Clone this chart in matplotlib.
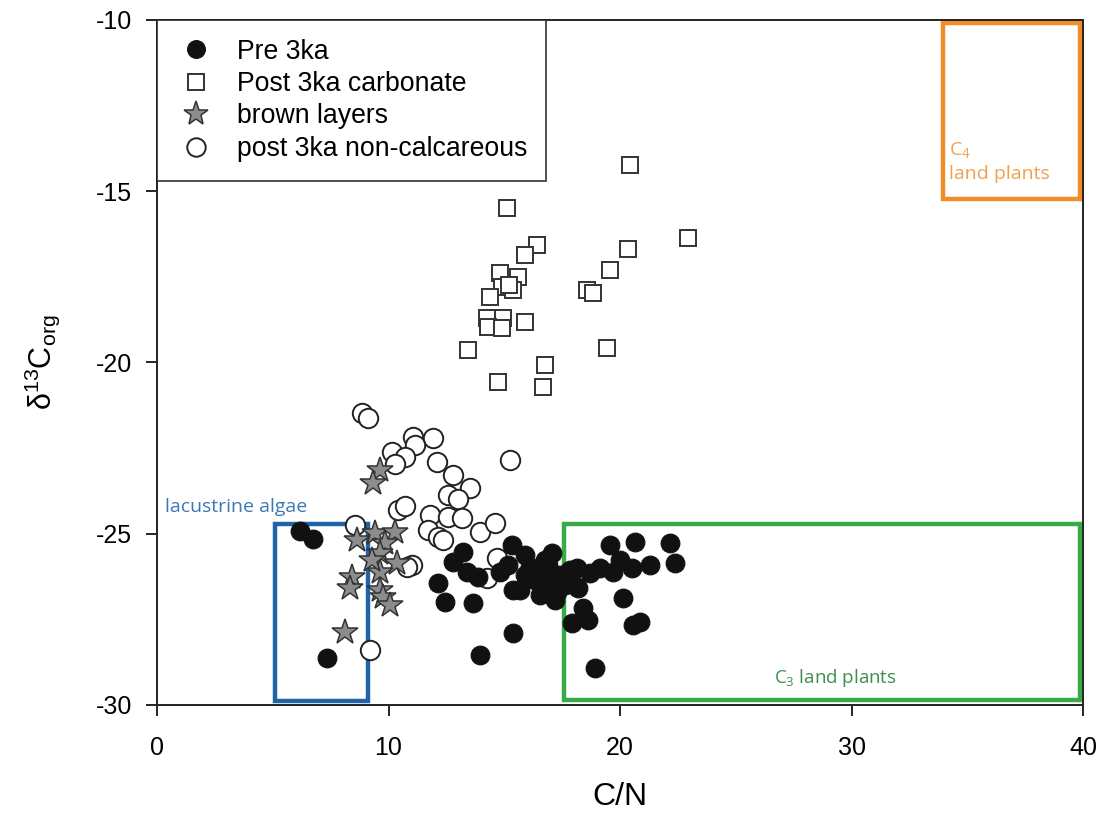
import matplotlib
matplotlib.use("Agg")
import matplotlib.pyplot as plt
from matplotlib.patches import Rectangle

plt.rcParams['font.family'] = ['Liberation Sans', 'DejaVu Sans']
plt.rcParams['mathtext.fontset'] = 'custom'
plt.rcParams['mathtext.rm'] = 'Liberation Sans'
plt.rcParams['mathtext.it'] = 'Liberation Sans'
plt.rcParams['mathtext.default'] = 'regular'
plt.rcParams['axes.unicode_minus'] = False

# ---- data ----
pre_cn = [6.18, 6.74, 7.34, 12.14, 12.44, 13.65, 12.79, 13.22, 13.39, 13.87,
          15.33, 15.90, 15.38, 15.68, 14.82, 15.16, 16.11, 16.67, 17.06, 16.67,
          17.28, 16.98, 16.33, 16.89, 17.41, 16.54, 17.84, 18.14, 18.40, 18.62,
          17.93, 17.62, 15.38, 13.95, 18.92, 19.57, 20.65, 22.16, 22.38, 21.30,
          20.52, 19.70, 20.00, 18.70, 18.14, 18.19, 20.13, 20.56, 20.86, 19.14,
          17.19, 16.76, 15.90]
pre_d13c = [-24.92, -25.15, -28.63, -26.44, -26.99, -27.02, -25.82, -25.53, -26.12, -26.26,
            -25.33, -25.62, -26.64, -26.64, -26.12, -25.91, -25.97, -26.20, -25.56, -26.55,
            -26.70, -26.35, -26.35, -25.91, -26.20, -26.79, -26.06, -26.55, -27.17, -27.52,
            -27.61, -26.50, -27.90, -28.54, -28.92, -25.33, -25.24, -25.27, -25.85, -25.91,
            -26.00, -26.12, -25.77, -26.15, -26.00, -26.58, -26.88, -27.66, -27.58, -26.00,
            -26.93, -25.77, -26.20]

carb_cn = [20.43, 15.12, 16.40, 15.90, 22.94, 20.35, 19.57, 14.80, 15.60, 18.57,
           18.84, 14.90, 15.38, 14.38, 14.25, 14.95, 14.30, 14.90, 15.90, 13.43,
           19.44, 16.76, 14.73, 16.67, 15.20]
carb_d13c = [-14.23, -15.49, -16.57, -16.86, -16.36, -16.70, -17.30, -17.39, -17.50, -17.88,
             -17.97, -17.80, -17.88, -18.09, -18.70, -18.70, -18.96, -18.99, -18.82, -19.64,
             -19.58, -20.07, -20.57, -20.72, -17.75]

brown_cn = [9.63, 9.33, 8.64, 9.42, 10.28, 9.85, 9.63, 10.37, 9.63, 8.42,
            8.34, 9.63, 9.76, 10.06, 8.12, 9.29]
brown_d13c = [-23.14, -23.52, -25.18, -24.98, -24.95, -25.27, -25.56, -25.85, -26.12, -26.26,
              -26.58, -26.64, -26.85, -27.08, -27.87, -25.77]

nonc_cn = [8.86, 9.11, 11.06, 11.92, 11.15, 10.15, 10.70, 10.28, 12.10, 15.25,
           12.80, 13.50, 12.57, 13.00, 10.40, 10.70, 11.80, 12.57, 13.17, 13.95,
           14.60, 11.70, 12.14, 12.35, 8.55, 11.00, 10.80, 14.70, 14.25, 9.20]
nonc_d13c = [-21.47, -21.62, -22.17, -22.20, -22.40, -22.60, -22.75, -22.95, -22.90, -22.85,
             -23.30, -23.67, -23.87, -24.00, -24.30, -24.20, -24.45, -24.50, -24.55, -24.95,
             -24.69, -24.90, -25.10, -25.18, -24.74, -25.90, -25.96, -25.70, -26.30, -28.40]

labels = ['Pre 3ka', 'Post 3ka carbonate', 'brown layers', 'post 3ka non-calcareous']
x_ticks = [0, 10, 20, 30, 40]
y_ticks = [-10, -15, -20, -25, -30]

# ---- figure ----
fig = plt.figure(figsize=(11.09, 8.15), dpi=100)
ax = fig.add_axes([0.1416, 0.135, 0.835, 0.8405])

ax.plot(nonc_cn, nonc_d13c, 'o', ms=14, mfc='white', mec='#222222', mew=1.4,
        ls='none', label=labels[3], zorder=3)
ax.plot(carb_cn, carb_d13c, 's', ms=11.5, mfc='white', mec='#333333', mew=1.4,
        ls='none', label=labels[1], zorder=3)
ax.plot(pre_cn, pre_d13c, 'o', ms=13.5, mfc='#111111', mec='#111111', mew=0.8,
        ls='none', label=labels[0], zorder=4)
ax.plot(brown_cn, brown_d13c, '*', ms=19, mfc='#8c8c8c', mec='#333333', mew=1.1,
        ls='none', label=labels[2], zorder=5)

# reference boxes
ax.add_patch(Rectangle((5.1, -29.88), 4.0, 5.15, fill=False, ec='#1f64a8', lw=3.2, zorder=2))
ax.add_patch(Rectangle((17.6, -29.85), 22.25, 5.13, fill=False, ec='#3aaa48', lw=3.2, zorder=2))
ax.add_patch(Rectangle((33.95, -15.23), 5.9, 5.13, fill=False, ec='#f08c2a', lw=3.2, zorder=2))

ax.text(0.35, -24.22, 'lacustrine algae', color='#3a78b8', fontsize=14,
        ha='left', va='center', family='Open Sans')
ax.text(29.3, -29.2, 'C$_3$ land plants', color='#3f8f4c', fontsize=13.5,
        ha='center', va='center', family='Open Sans')
ax.text(34.2, -14.75, 'C$_4$\nland plants', color='#f0a050', fontsize=14,
        ha='left', va='bottom', family='Open Sans', linespacing=1.35)

ax.set_xlim(0, 40)
ax.set_ylim(-30, -10)
ax.set_xticks(x_ticks)
ax.set_yticks(y_ticks)
ax.tick_params(direction='out', length=8, width=1.2, labelsize=18, pad=14)
ax.tick_params(axis='y', pad=10)
for s in ax.spines.values():
    s.set_linewidth(1.4)
    s.set_color('#222222')

ax.set_xlabel('C/N', fontsize=23, labelpad=16)
ax.set_ylabel(r'$\delta^{13}$C$_{org}$', fontsize=22, labelpad=24)

handles, labs = ax.get_legend_handles_labels()
order = [labs.index(l) for l in labels]
leg = ax.legend([handles[i] for i in order], [labs[i] for i in order],
                loc='upper left', bbox_to_anchor=(0, 1), borderaxespad=0,
                fontsize=19.2, frameon=True, fancybox=False, edgecolor='#222222',
                handletextpad=0.8, labelspacing=0.24, borderpad=0.7,
                handlelength=1.5, markerscale=0.95)
leg.get_frame().set_linewidth(1.4)
leg.set_zorder(10)

fig.savefig('out.png', dpi=100)
